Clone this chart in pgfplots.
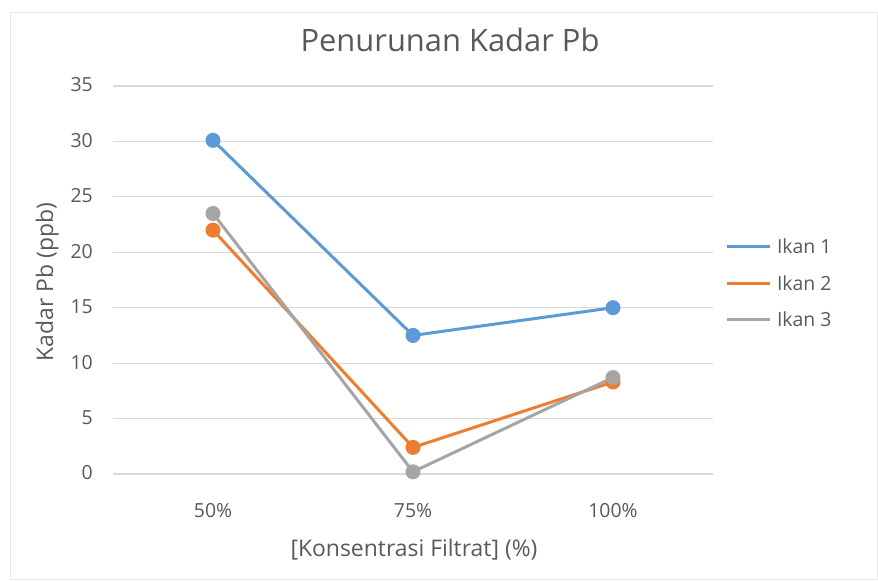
\documentclass[border=0pt]{standalone}
\usepackage{pgfplots}
\pgfplotsset{compat=1.18}
\usepackage{fontspec}
\setmainfont{Open Sans}
\definecolor{cblue}{HTML}{5B9BD5}
\definecolor{corange}{HTML}{ED7D31}
\definecolor{cgray}{HTML}{A5A5A5}
\definecolor{txt}{HTML}{595959}
\definecolor{gridc}{HTML}{D9D9D9}
\begin{document}
\begin{tikzpicture}
\path[draw=gridc!60, line width=0.8bp] (10bp,2bp) rectangle (877bp,569bp);
\path (0,0) rectangle (878bp,581bp);
\node[anchor=base, inner sep=0pt, text=txt, font=\fontsize{31}{36}\selectfont] at (450bp,529bp) {Penurunan Kadar Pb};
\node[anchor=base, inner sep=0pt, text=txt, font=\fontsize{23}{27}\selectfont] at (414bp,25bp) {[Konsentrasi Filtrat] (\%)};
\node[anchor=base, rotate=90, inner sep=0pt, text=txt, font=\fontsize{23}{27}\selectfont] at (53bp,299bp) {Kadar Pb (ppb)};
\begin{axis}[
  at={(113bp,107bp)}, anchor=south west,
  scale only axis, width=600bp, height=388bp,
  xmin=-0.5, xmax=2.5, ymin=0, ymax=35,
  xtick={0,1,2}, xticklabels={50\%,75\%,100\%},
  ytick={0,5,...,35},
  xmajorgrids=false, ymajorgrids=true, grid style={draw=gridc, line width=1.2bp},
  axis line style={draw=none},
  major tick length=0pt,
  tick label style={font=\fontsize{19.5}{23}\selectfont, text=txt, inner sep=0pt},
  /pgf/number format/assume math mode=true,
  yticklabel style={anchor=east, xshift=-20bp, yshift=1bp},
  xticklabel style={anchor=base, yshift=-43bp},
  legend style={at={(1.02,0.492)}, anchor=west, draw=none, fill=none,
    inner sep=0pt, font=\fontsize{19.5}{23}\selectfont, text=txt, row sep=18.5bp,
    nodes={text height=14bp, text depth=0bp}},
  legend cell align=left,
  legend image code/.code={\draw[#1, mark=none, line width=2.8bp] (0bp,0bp) -- (43bp,0bp);},
  every axis plot/.append style={line width=3bp, mark=*, mark size=6bp},
]
\addplot[cblue, mark options={fill=cblue, draw=cblue}] coordinates {(0,30.1) (1,12.5) (2,15.0)};
\addlegendentry{\hspace{4bp}Ikan 1}
\addplot[corange, mark options={fill=corange, draw=corange}] coordinates {(0,22.0) (1,2.4) (2,8.3)};
\addlegendentry{\hspace{4bp}Ikan 2}
\addplot[cgray, mark options={fill=cgray, draw=cgray}] coordinates {(0,23.5) (1,0.2) (2,8.7)};
\addlegendentry{\hspace{4bp}Ikan 3}
\end{axis}
\end{tikzpicture}
\end{document}
